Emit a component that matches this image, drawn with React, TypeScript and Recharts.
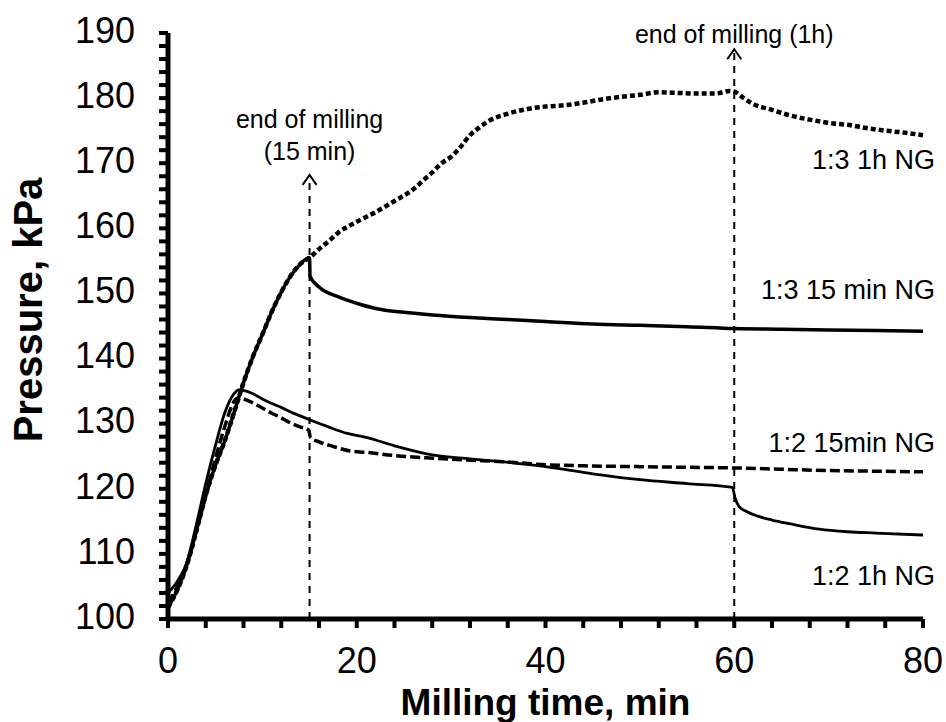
import { Label, Line, LineChart, ReferenceDot, ReferenceLine, XAxis, YAxis } from "recharts";

const FONT = '"Liberation Sans", Arial, Helvetica, sans-serif';

// rising part shared by both 1:3 runs (0-15 min)
const rise13T = [0, 1, 2, 3, 4, 5, 6, 7, 8, 9, 10, 11, 12, 13, 14, 15];
const rise13P = [101.8, 104.5, 108.3, 113.5, 119, 123.5, 127.3, 131.7, 136.3, 140.3, 143.7, 147.2, 150.2, 152.7, 154.5, 155.5];

const after13mT = [15.05, 16, 18, 20, 22, 25, 28, 32, 36, 40, 45, 50, 55, 60, 65, 70, 75, 80];
const after13mP = [152.6, 151, 149.5, 148.5, 147.7, 147.1, 146.7, 146.3, 146, 145.7, 145.3, 145.1, 144.9, 144.6, 144.5, 144.4, 144.3, 144.2];

const after13hT = [16, 17, 18, 20, 22, 24, 26, 27, 28, 29, 30, 31, 32, 33, 34, 36, 38, 40, 42, 44, 46, 48, 50, 52, 54, 56, 58, 59.5, 60, 61, 62, 64, 66, 68, 70, 72, 74, 76, 78, 80];
const after13hP = [156.8, 158, 159.3, 161, 162.5, 164.2, 166, 167.3, 168.6, 170, 171, 172.5, 174.3, 175.5, 176.5, 177.6, 178.3, 178.7, 178.9, 179.3, 179.8, 180.2, 180.5, 180.9, 180.8, 180.7, 180.7, 181.1, 181, 180, 179.1, 178.2, 177.3, 176.7, 176.2, 175.9, 175.4, 175, 174.7, 174.3];

const g12hT = [0, 1, 2, 3, 4, 5, 6, 7, 7.5, 8, 9, 10, 11, 12, 13, 14, 15, 17, 19, 21, 24, 28, 32, 35, 40, 45, 50, 55, 59.8, 60.1, 60.5, 61.3, 62.5, 64, 66, 69, 72, 75, 80];
const g12hP = [104, 105.8, 108.7, 114.5, 120.8, 126.5, 131.6, 134.6, 135.2, 135.1, 134.6, 133.8, 133.1, 132.5, 131.8, 131.2, 130.6, 129.5, 128.5, 127.9, 126.6, 125.2, 124.6, 124.2, 123.4, 122.3, 121.4, 120.8, 120.2, 118.5, 117.3, 116.5, 115.8, 115.2, 114.6, 113.8, 113.4, 113.2, 112.9];

const g12mT = [0, 1, 2, 3, 4, 5, 6, 7, 7.5, 8, 9, 10, 11, 12, 13, 14, 14.9, 15.1, 16, 17.5, 19.3, 21, 24, 28, 32, 35, 40, 45, 50, 55, 60, 65, 70, 75, 80];
const g12mP = [102.5, 105, 108.5, 113.5, 119, 124.5, 129.5, 133.4, 134, 133.8, 133.2, 132.4, 131.6, 130.9, 130.1, 129.5, 129, 127.9, 127.2, 126.5, 125.8, 125.6, 125.1, 124.7, 124.4, 124.2, 123.7, 123.5, 123.4, 123.3, 123.2, 123, 122.8, 122.7, 122.6];

const xLabels = [0, 20, 40, 60, 80];
const yLabels = [100, 110, 120, 130, 140, 150, 160, 170, 180, 190];
const xTicks = Array.from({ length: 21 }, (_, i) => i * 4);
const yTicks = Array.from({ length: 46 }, (_, i) => 100 + i * 2);

const seriesLabels = [
  { name: "1:3 1h NG", y: 169.1 },
  { name: "1:3 15 min NG", y: 149.1 },
  { name: "1:2 15min NG", y: 125.7 },
  { name: "1:2 1h NG", y: 105.2 },
];

const zip = (t: number[], p: number[]) => t.map((x, i) => ({ t: x, p: p[i] }));

const data13m = zip([...rise13T, ...after13mT], [...rise13P, ...after13mP]);
const data13h = zip([...rise13T, ...after13hT], [...rise13P, ...after13hP]);
const data12h = zip(g12hT, g12hP);
const data12m = zip(g12mT, g12mP);

const textStyle = { fontFamily: FONT, fill: "#000" };
const TICK_LEN = 9;
const X_GAP = 19;
const Y_GAP = 24;

function XTick({ x, y, payload }: any) {
  const top = y - X_GAP - TICK_LEN;
  const v = payload.value;
  return (
    <g>
      <rect x={x - 2} y={top} width={4} height={TICK_LEN} fill="#000" />
      {xLabels.includes(v) && (
        <text x={x} y={y} dy="0.71em" textAnchor="middle" fontSize={36} style={textStyle}>{v}</text>
      )}
    </g>
  );
}

function YTick({ x, y, payload }: any) {
  const right = x + Y_GAP + TICK_LEN;
  const v = payload.value;
  return (
    <g>
      <rect x={right - TICK_LEN} y={y - 2} width={TICK_LEN} height={4} fill="#000" />
      {yLabels.includes(v) && (
        <text x={x} y={y - 3} dy="0.355em" textAnchor="end" fontSize={36} style={textStyle}>{v}</text>
      )}
    </g>
  );
}

function Chevron({ cx, cy }: any) {
  return <path d={`M${cx - 7},${cy + 10} L${cx},${cy} L${cx + 7},${cy + 10}`} fill="none" stroke="#000" strokeWidth={2} />;
}

function XTitle({ viewBox }: any) {
  return (
    <text x={viewBox.x + viewBox.width / 2} y={viewBox.y + viewBox.height - 7} textAnchor="middle" fontSize={37} fontWeight="bold" style={textStyle}>
      Milling time, min
    </text>
  );
}

function YTitle({ viewBox }: any) {
  const cy = viewBox.y + viewBox.height / 2 - 16;
  return (
    <text x={42} y={cy} transform={`rotate(-90 42 ${cy})`} textAnchor="middle" fontSize={40} fontWeight="bold" style={textStyle}>
      Pressure, kPa
    </text>
  );
}

export default function App() {
  return (
    <div style={{ position: "absolute", left: 0, top: 0, background: "#fff" }}>
      <LineChart width={946} height={722} margin={{ top: 33, right: 23, bottom: 0, left: 0 }}>
        <XAxis
          dataKey="t"
          type="number"
          domain={[0, 80]}
          ticks={xTicks}
          interval={0}
          height={103}
          tickSize={TICK_LEN}
          tickMargin={X_GAP}
          axisLine={false}
          tickLine={false}
          tick={<XTick />}
        >
          <Label content={<XTitle />} />
        </XAxis>
        <YAxis
          type="number"
          domain={[100, 190]}
          ticks={yTicks}
          interval={0}
          width={168}
          tickSize={TICK_LEN}
          tickMargin={Y_GAP}
          axisLine={false}
          tickLine={false}
          tick={<YTick />}
        >
          <Label content={<YTitle />} />
        </YAxis>

        <ReferenceLine segment={[{ x: 15, y: 100 }, { x: 15, y: 168.2 }]} stroke="#000" strokeWidth={2} strokeDasharray="7 6" />
        <ReferenceLine segment={[{ x: 60, y: 100 }, { x: 60, y: 187.5 }]} stroke="#000" strokeWidth={2} strokeDasharray="7 6" />

        <Line data={data13h} dataKey="p" type="monotone" dot={false} stroke="#000" strokeWidth={4.5} strokeDasharray="5 3" isAnimationActive={false} />
        <Line data={data13m} dataKey="p" type="monotone" dot={false} stroke="#000" strokeWidth={3.5} isAnimationActive={false} />
        <Line data={data12m} dataKey="p" type="monotone" dot={false} stroke="#000" strokeWidth={3.5} strokeDasharray="10 4" isAnimationActive={false} />
        <Line data={data12h} dataKey="p" type="monotone" dot={false} stroke="#000" strokeWidth={2.8} isAnimationActive={false} />

        <ReferenceLine segment={[{ x: 0, y: 100 }, { x: 80, y: 100 }]} stroke="#000" strokeWidth={5} ifOverflow="visible" />
        <ReferenceLine segment={[{ x: 0, y: 100 }, { x: 0, y: 190 }]} stroke="#000" strokeWidth={5} ifOverflow="visible" />

        <ReferenceDot
          x={15}
          y={168.2}
          r={0}
          shape={(p: any) => (
            <g>
              <Chevron cx={p.cx} cy={p.cy} />
              <text x={p.cx} y={p.cy - 47} textAnchor="middle" fontSize={25} style={textStyle}>end of milling</text>
              <text x={p.cx} y={p.cy - 15} textAnchor="middle" fontSize={25} style={textStyle}>(15 min)</text>
            </g>
          )}
        />
        <ReferenceDot
          x={60}
          y={187.5}
          r={0}
          shape={(p: any) => (
            <g>
              <Chevron cx={p.cx} cy={p.cy} />
              <text x={p.cx} y={p.cy - 6} textAnchor="middle" fontSize={25} style={textStyle}>end of milling (1h)</text>
            </g>
          )}
        />
        {seriesLabels.map((s) => (
          <ReferenceDot
            key={s.name}
            x={80}
            y={s.y}
            r={0}
            shape={(p: any) => (
              <text x={p.cx + 12} y={p.cy} textAnchor="end" fontSize={27} style={textStyle}>
                {s.name}
              </text>
            )}
          />
        ))}
      </LineChart>
    </div>
  );
}
